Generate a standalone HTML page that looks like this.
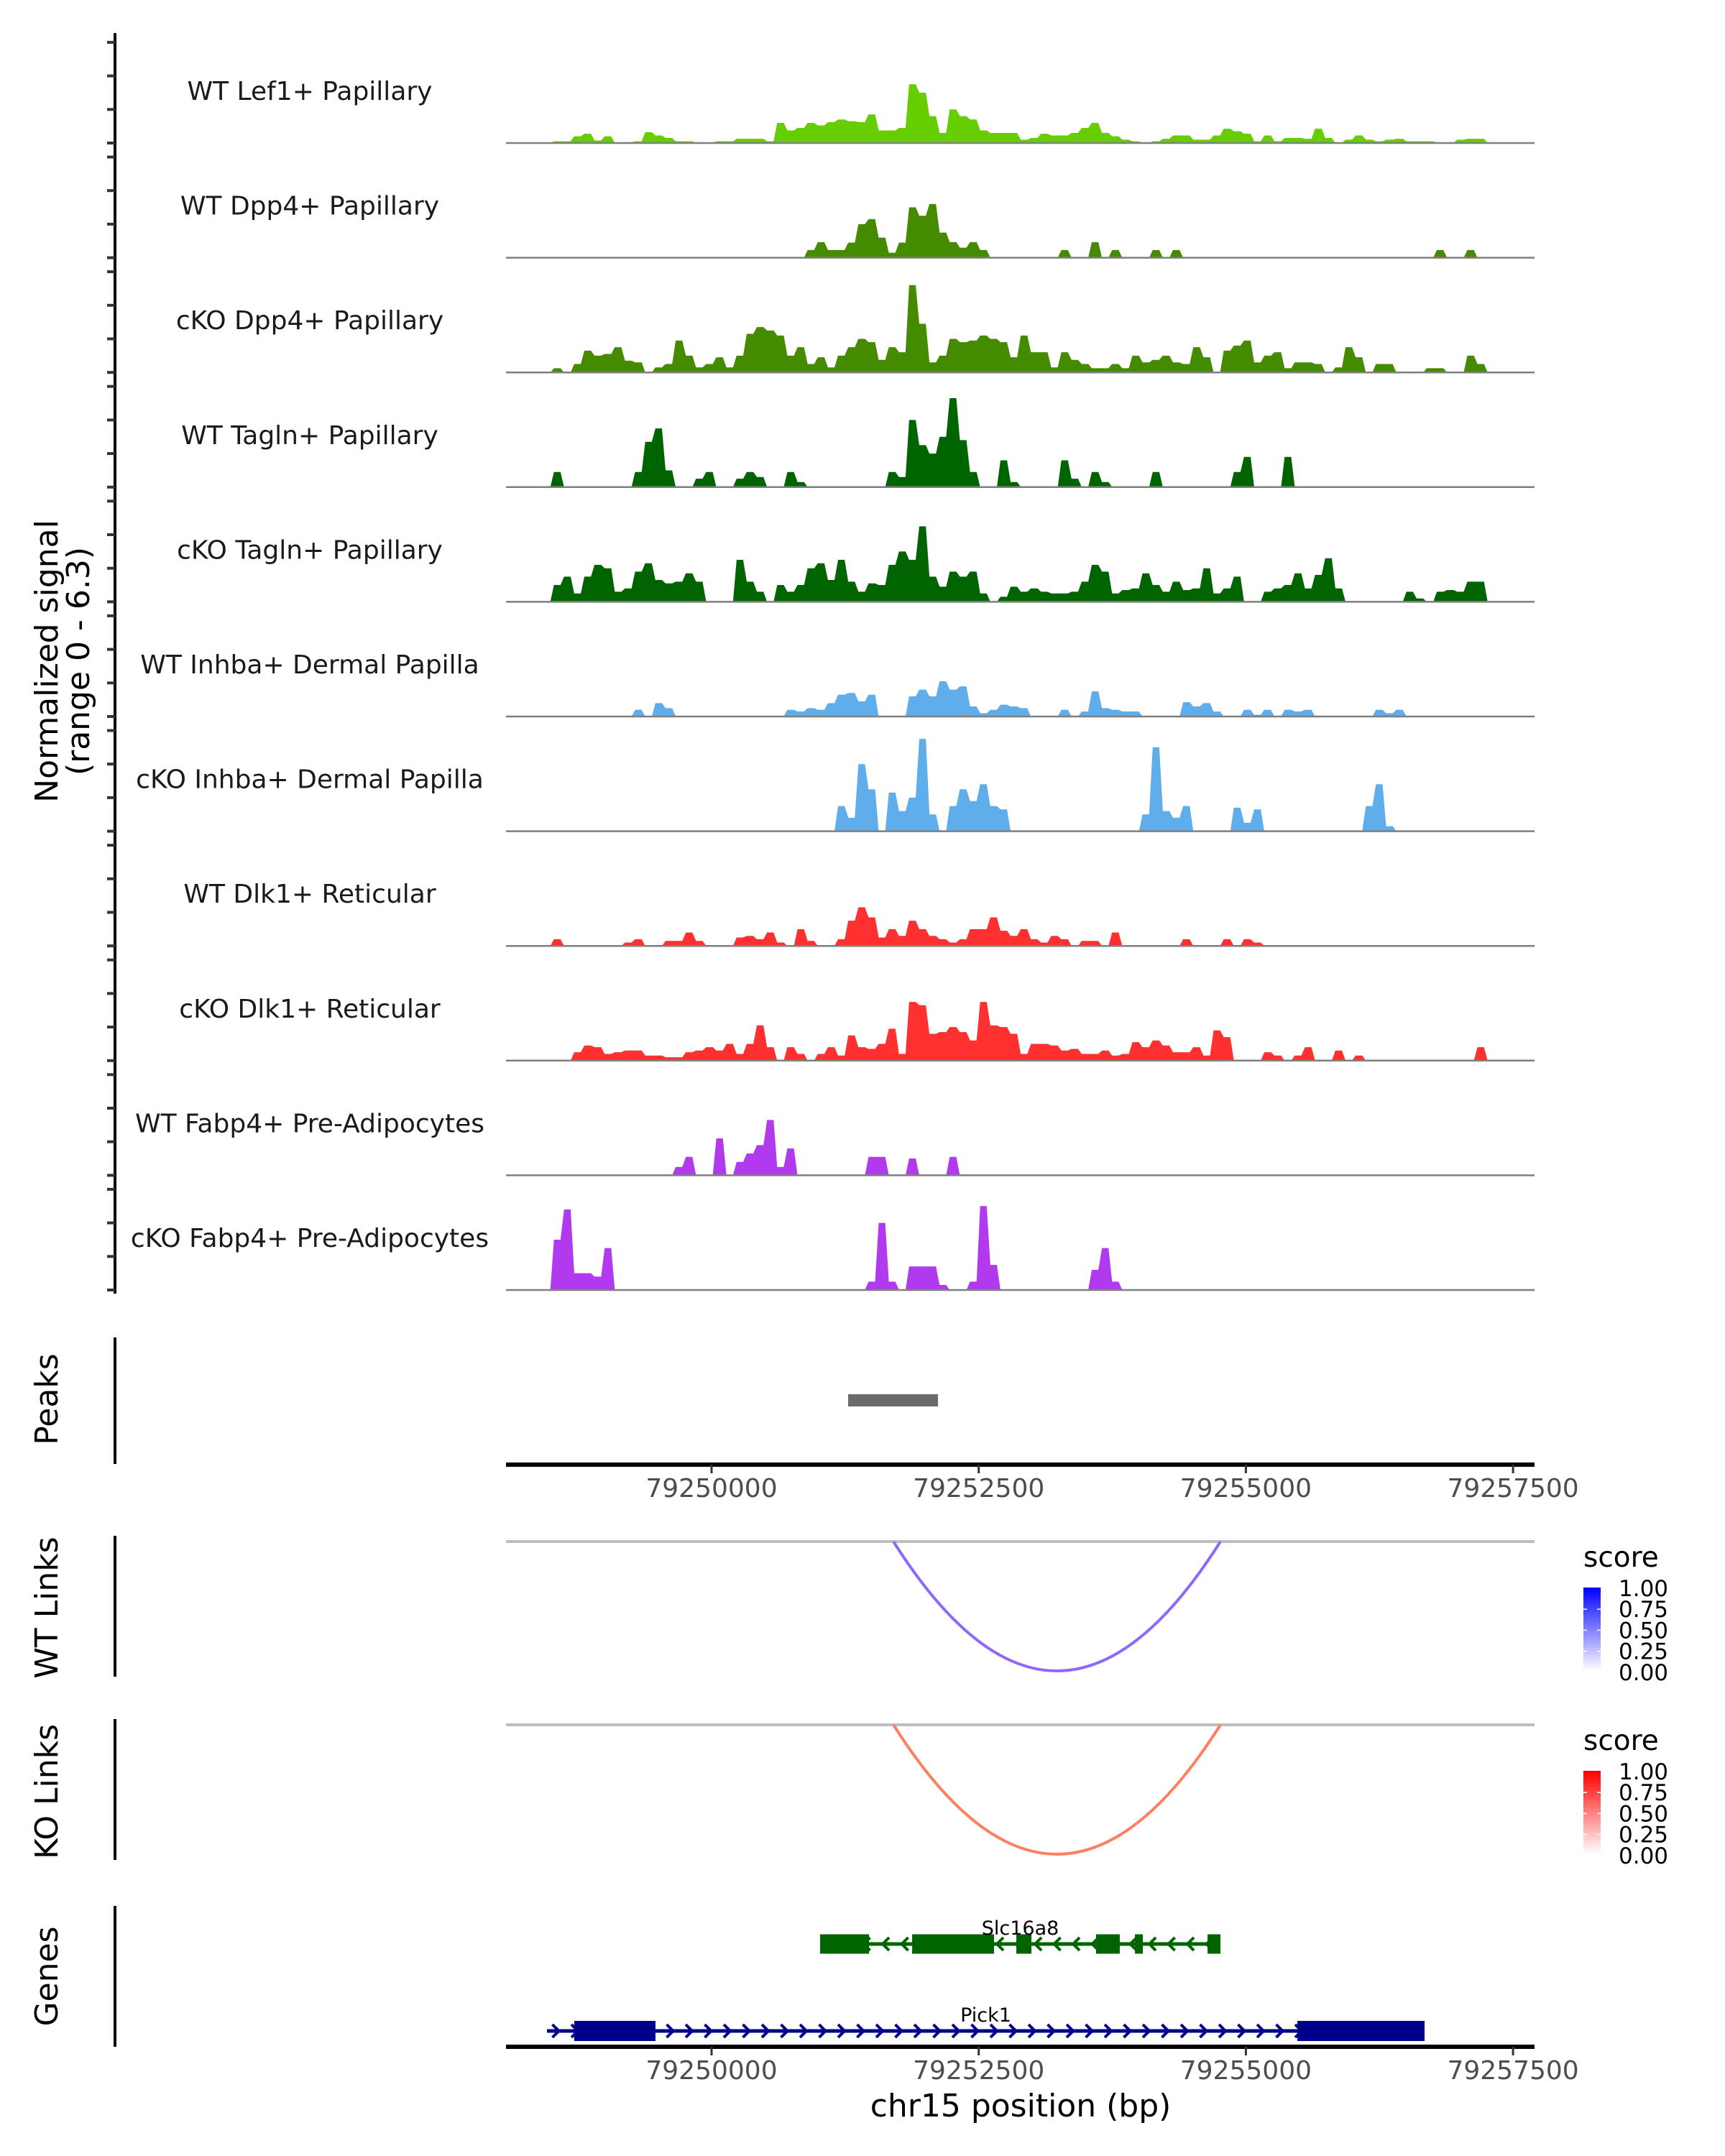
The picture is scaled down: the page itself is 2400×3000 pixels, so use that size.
<!DOCTYPE html>
<html><head><meta charset="utf-8">
<style>
html,body{margin:0;padding:0;background:#fff;}
svg{display:block;font-family:"DejaVu Sans","Liberation Sans",sans-serif;}
</style></head>
<body>
<svg id="chart" xmlns="http://www.w3.org/2000/svg" width="2400" height="3000" viewBox="0 0 2400 3000"></svg>
<script>
// ---- data ----
const trackNames = ["WT Lef1+ Papillary","WT Dpp4+ Papillary","cKO Dpp4+ Papillary","WT Tagln+ Papillary","cKO Tagln+ Papillary","WT Inhba+ Dermal Papilla","cKO Inhba+ Dermal Papilla","WT Dlk1+ Reticular","cKO Dlk1+ Reticular","WT Fabp4+ Pre-Adipocytes","cKO Fabp4+ Pre-Adipocytes"];
const trackColors = ["#66cd00","#458b00","#458b00","#006400","#006400","#5fadeb","#5fadeb","#ff3030","#ff3030","#b23aee","#b23aee"];
const wtLef1 = [0,0,0,0,.1,.1,.4,.55,.15,.4, 0,.05,.1,.65,.45,.3,.1,.1,0,0, .1,.1,.25,.25,.25,.1,1.2,.75,.9,1.2, 1.05,1.25,1.4,1.3,1.25,1.7,.75,.75,.9,3.5, 3.0,1.6,.6,2.0,1.6,1.4,.75,.6,.6,.6, .2,.3,.55,.45,.45,.6,.9,1.2,.6,.4, .2,.1,0,.1,.25,.45,.45,.2,.2,.45, .85,.7,.55,.1,.45,.1,.3,.3,.25,.85, .3,0,.2,.45,.2,.1,.2,.25,.1,.1, .1,0,0,.2,.25,.25,0,0,0,0];
const wtDpp4 = [0,0,0,0,0,0,0,0,0,0, 0,0,0,0,0,0,0,0,0,0, 0,0,0,0,0,0,0,0,0,.46, .93,.46,.46,.9,2.0,2.3,1.2,.3,.9,3.0, 2.5,3.2,1.5,.93,.6,.93,.46,0,0,0, 0,0,0,0,.46,0,0,.93,0,.46, 0,0,0,.46,0,.46,0,0,0,0, 0,0,0,0,0,0,0,0,0,0, 0,0,0,0,0,0,0,0,0,0, 0,.46,0,0,.46,0,0,0,0,0];
const koDpp4 = [0,0,0,0,.25,0,.5,1.3,1.0,1.1, 1.5,.7,.6,0,.3,.5,1.9,1.0,.3,.5, .9,.3,1.0,2.3,2.7,2.5,2.2,1.0,1.5,.5, .9,.3,1.0,1.5,2.0,1.8,.75,1.5,1.2,5.2, 2.9,.6,1.0,2.0,1.8,1.9,2.2,2.0,1.8,.9, 2.2,1.2,1.2,.3,1.2,.75,.5,.25,.25,.5, .25,1.0,.6,.75,1.0,.6,.5,1.5,.9,0, 1.3,1.6,1.9,.6,1.0,1.2,.25,.6,.6,.5, 0,.3,1.5,.9,0,.5,.5,0,0,0, .25,.25,0,0,1.0,.5,0,0,0,0];
const wtTagln = [0,0,0,0,.9,0,0,0,0,0, 0,0,.9,2.7,3.5,1.0,0,0,.5,.9, 0,0,.5,.9,.6,0,0,.9,.3,0, 0,0,0,0,0,0,0,.9,.6,4.0, 2.5,2.0,3.0,5.3,2.8,.9,0,0,1.6,.3, 0,0,0,0,1.6,.5,0,.9,.3,0, 0,0,0,.9,0,0,0,0,0,0, 0,.9,1.8,0,0,0,1.8,0,0,0, 0,0,0,0,0,0,0,0,0,0, 0,0,0,0,0,0,0,0,0,0];
const koTagln = [0,0,0,0,1.0,1.5,.5,1.5,2.2,2.0, .6,.8,1.8,2.3,1.3,1.1,1.2,1.7,1.2,0, 0,0,2.5,1.2,.6,0,1.0,.6,1.0,2.0, 2.3,1.3,2.5,1.2,.6,1.1,1.0,2.2,3.0,2.5, 4.5,1.5,.9,1.8,1.5,1.8,.5,0,.3,.9, .6,.8,.6,.5,.5,.6,1.2,2.2,1.8,.5, .7,.8,1.7,1.0,.6,1.2,.7,.8,2.0,.5, .8,1.5,0,0,.6,.8,1.0,1.7,.8,1.6, 2.6,.8,0,0,0,0,0,0,.6,.2, 0,.6,.7,.6,1.2,1.2,0,0,0,0];
const wtInhba = [0,0,0,0,0,0,0,0,0,0, 0,0,.4,0,.8,.5,0,0,0,0, 0,0,0,0,0,0,0,.4,.3,.5, .4,.8,1.3,1.4,.9,1.3,0,0,0,1.2, 1.6,1.2,2.1,1.6,1.8,.6,.2,.4,.7,.6, .5,0,0,0,.4,0,.3,1.5,.5,.4, .3,.3,0,0,0,0,.85,.6,.8,.3, 0,0,.4,.1,.4,0,.4,.3,.4,0, 0,0,0,0,0,.4,.2,.4,0,0, 0,0,0,0,0,0,0,0,0,0];
const koInhba = [0,0,0,0,0,0,0,0,0,0, 0,0,0,0,0,0,0,0,0,0, 0,0,0,0,0,0,0,0,0,0, 0,0,1.5,.8,4.0,2.5,0,2.3,1.2,2.0, 5.5,1.0,0,1.5,2.5,1.8,2.8,1.5,1.3,0, 0,0,0,0,0,0,0,0,0,0, 0,0,1.0,5.0,1.2,.8,1.5,0,0,0, 0,1.4,.5,1.3,0,0,0,0,0,0, 0,0,0,0,1.5,2.8,.3,0,0,0, 0,0,0,0,0,0,0,0,0,0];
const wtDlk1 = [0,0,0,0,.4,0,0,0,0,0, 0,.2,.4,0,0,.3,.3,.8,.3,0, 0,0,.5,.6,.4,.8,.2,0,1.0,.3, 0,0,.4,1.5,2.3,1.7,.5,1.0,.6,1.5, 1.0,.6,.4,.2,.4,1.0,1.0,1.7,.9,.6, 1.0,.4,.2,.6,.4,0,.3,.3,0,.8, 0,0,0,0,0,0,.4,0,0,0, .4,0,.4,.2,0,0,0,0,0,0, 0,0,0,0,0,0,0,0,0,0, 0,0,0,0,0,0,0,0,0,0];
const koDlk1 = [0,0,0,0,0,0,.5,.9,.8,.4, .5,.6,.6,.3,.3,.2,.2,.5,.6,.8, .6,1.0,.4,1.0,2.1,.8,0,.8,.4,0, .4,.8,.3,1.5,.8,.7,1.0,1.9,.4,3.5, 3.3,1.6,1.7,2.0,1.7,1.2,3.5,2.1,2.0,1.6, .4,1.0,1.0,.9,.6,.7,.4,.4,.6,.3, .4,1.1,.8,1.2,.9,.5,.5,.8,.3,1.8, 1.4,0,0,0,.5,.3,0,.3,.8,0, 0,.6,0,.3,0,0,0,0,0,0, 0,0,0,0,0,.8,0,0,0,0];
const wtFabp4 = [0,0,0,0,0,0,0,0,0,0, 0,0,0,0,0,0,.5,1.1,0,0, 2.2,0,.8,1.3,1.8,3.3,.5,1.6,0,0, 0,0,0,0,0,1.1,1.1,0,0,1.0, 0,0,0,1.1,0,0,0,0,0,0, 0,0,0,0,0,0,0,0,0,0, 0,0,0,0,0,0,0,0,0,0, 0,0,0,0,0,0,0,0,0,0, 0,0,0,0,0,0,0,0,0,0, 0,0,0,0,0,0,0,0,0,0];
const koFabp4 = [0,0,0,0,3.0,4.8,1.0,1.0,.8,2.5, 0,0,0,0,0,0,0,0,0,0, 0,0,0,0,0,0,0,0,0,0, 0,0,0,0,0,.5,4.0,.5,0,1.4, 1.4,1.4,.3,0,0,.5,5.0,1.5,0,0, 0,0,0,0,0,0,0,1.2,2.5,.5, 0,0,0,0,0,0,0,0,0,0, 0,0,0,0,0,0,0,0,0,0, 0,0,0,0,0,0,0,0,0,0, 0,0,0,0,0,0,0,0,0,0];
const trackValues = [wtLef1,wtDpp4,koDpp4,wtTagln,koTagln,wtInhba,koInhba,wtDlk1,koDlk1,wtFabp4,koFabp4];
const signalTicks = [0,2,4,6];
const axisTicksBp = [79250000,79252500,79255000,79257500];
const axisTickLabels = ["79250000","79252500","79255000","79257500"];
const peakRegions = [[79251278,79252119]];
const wtLinks = [[79251702,79254762]];
const koLinks = [[79251702,79254762]];
const legendLabels = ["1.00","0.75","0.50","0.25","0.00"];
const slc16a8Exons = [[79251016,79251473],[79251877,79252643],[79252852,79252993],[79253598,79253820],[79253962,79254036],[79254641,79254762]];
const slc16a8Span = [79251016,79254762];
const pick1Exons = [[79248715,79249475],[79255482,79256672]];
const pick1Span = [79248460,79256672];

// ---- scales ----
const NS="http://www.w3.org/2000/svg";
const svg=document.getElementById('chart');
const PL=704, PR=2135;
const binX = i => 711.7 + i*14.12;
const xBp = bp => 990 + (bp-79250000)/2500*371.7;
const baseY = k => 199 + k*159.6;
const UNIT = 23.35;
const yVal = (k,v) => baseY(k) - v*UNIT;

function el(tag, attrs, parent){
  const e=document.createElementNS(NS,tag);
  for(const a in attrs) e.setAttribute(a,attrs[a]);
  (parent||svg).appendChild(e);
  return e;
}
function txt(s, attrs, parent){ const t=el('text',attrs,parent); t.textContent=s; return t; }

let a=el('line',{x1:160,y1:46,x2:160,y2:1800,stroke:'#000','stroke-width':4});


let yt=txt('Normalized signal',{x:0,y:0,'font-size':44,'text-anchor':'middle',fill:'#000',transform:'translate(80,920) rotate(-90)'});


let yt2=txt('(range 0 - 6.3)',{x:0,y:0,'font-size':44,'text-anchor':'middle',fill:'#000',transform:'translate(124,920) rotate(-90)'});



trackValues.forEach((vals,k)=>{
  const g=el('g',{});
  
  
  signalTicks.forEach(t=>{
    const tk=el('line',{x1:149,x2:160,y1:yVal(k,t),y2:yVal(k,t),stroke:'#333','stroke-width':4},g);
    
    
  });
  let d='M'+binX(0)+','+baseY(k);
  vals.forEach((v,i)=>{ d+=' L'+(binX(i)+2.5)+','+yVal(k,v)+' L'+(binX(i+1)-2.5)+','+yVal(k,v); });
  d+=' L'+binX(vals.length)+','+baseY(k)+' Z';
  const area=el('path',{d:d,fill:trackColors[k],stroke:'none'},g);
  
  
  const bl=el('line',{x1:PL,x2:PR,y1:baseY(k),y2:baseY(k),stroke:'#7f7f7f','stroke-width':2.5},g);
  
  
  const lb=txt(trackNames[k],{x:431,y:baseY(k)-60,'font-size':36,'text-anchor':'middle',fill:'#1a1a1a'},g);
  
  
});

function leftPanel(label, y1, y2, cy, name){
  const l=el('line',{x1:160,x2:160,y1:y1,y2:y2,stroke:'#000','stroke-width':4});
  
  
  const t=txt(label,{x:0,y:0,'font-size':44,'text-anchor':'middle',fill:'#000',transform:'translate(80,'+cy+') rotate(-90)'});
  
  
}
function bottomAxis(y, name){
  const l=el('line',{x1:PL,x2:PR,y1:y,y2:y,stroke:'#000','stroke-width':6});
  
  
  axisTicksBp.forEach((bp,i)=>{
    const t=el('line',{x1:xBp(bp),x2:xBp(bp),y1:y,y2:y+12,stroke:'#333','stroke-width':3});
    
    
    const tl=txt(axisTickLabels[i],{x:xBp(bp),y:y+45,'font-size':36,'text-anchor':'middle',fill:'#4d4d4d'});
    
    
  });
}

leftPanel('Peaks',1861,2037,1947,'peaks');
peakRegions.forEach(p=>{
  const r=el('rect',{x:xBp(p[0]),y:1940,width:xBp(p[1])-xBp(p[0]),height:17,fill:'#6b6b6b'});
  
  
});
bottomAxis(2038,'peaks-x-axis');

function linkPanel(links, y0, color, label, cy, legendColor, name){
  leftPanel(label, y0-8, y0+188, cy, name);
  const b=el('line',{x1:PL,x2:PR,y1:y0,y2:y0,stroke:'#bebebe','stroke-width':4});
  
  
  links.forEach(lk=>{
    const x1=xBp(lk[0]), x2=xBp(lk[1]), xm=(x1+x2)/2;
    const p=el('path',{d:'M'+x1+','+y0+' Q'+xm+','+(y0+360)+' '+x2+','+y0,fill:'none',stroke:color,'stroke-width':4});
    
    
  });
  const off=y0-2145;
  const lt=txt('score',{x:2203,y:2180+off,'font-size':39,fill:'#000'});
  
  
  const gid='grad-'+name;
  const defs=el('defs',{});
  const lg=el('linearGradient',{id:gid,x1:0,y1:1,x2:0,y2:0},defs);
  el('stop',{offset:0,'stop-color':'#ffffff'},lg);
  el('stop',{offset:1,'stop-color':legendColor},lg);
  const cb=el('rect',{x:2203,y:2209+off,width:24,height:116,fill:'url(#'+gid+')'});
  
  
  legendLabels.forEach((s,i)=>{
    const yy=2210+off+i*29.2;
    if(i>0&&i<4){ const tk=el('line',{x1:2203,x2:2208,y1:yy,y2:yy,stroke:'#fff','stroke-width':1.5});  
      const tk2=el('line',{x1:2222,x2:2227,y1:yy,y2:yy,stroke:'#fff','stroke-width':1.5});   }
    const t=txt(s,{x:2252,y:yy+11,'font-size':31,fill:'#000'});
    
    
  });
}
linkPanel(wtLinks,2145,'#8f66ff','WT Links',2237,'#0000ff','wt-links');
linkPanel(koLinks,2400,'#ff7f5f','KO Links',2493,'#ff0000','ko-links');

leftPanel('Genes',2652,2848,2750,'genes');
function gene(name, span, exons, y, color, dir, h, labelY){
  const g=el('g',{});
  
  
  el('line',{x1:xBp(span[0]),x2:xBp(span[1]),y1:y,y2:y,stroke:color,'stroke-width':5},g);
  for(let x=xBp(span[0])+12; x<xBp(span[1])-6; x+=26.5){
    const dx = dir>0?9:-9;
    el('path',{d:'M'+(x-dx/2)+','+(y-9)+' L'+(x+dx/2)+','+y+' L'+(x-dx/2)+','+(y+9),fill:'none',stroke:color,'stroke-width':4},g);
  }
  exons.forEach(e=>{
    const r=el('rect',{x:xBp(e[0]),y:y-h/2,width:xBp(e[1])-xBp(e[0]),height:h,fill:color},g);
    
    
  });
  const t=txt(name,{x:(xBp(span[0])+xBp(span[1]))/2,y:labelY,'font-size':27,'text-anchor':'middle',fill:'#000'},g);
  
  
}
gene('Slc16a8',slc16a8Span,slc16a8Exons,2705,'#006400',-1,27,2692);
gene('Pick1',pick1Span,pick1Exons,2826,'#00008b',1,28,2813);
bottomAxis(2848,'genes-x-axis');
const xt=txt('chr15 position (bp)',{x:1420,y:2945,'font-size':44,'text-anchor':'middle',fill:'#000'});


</script>
</body></html>
